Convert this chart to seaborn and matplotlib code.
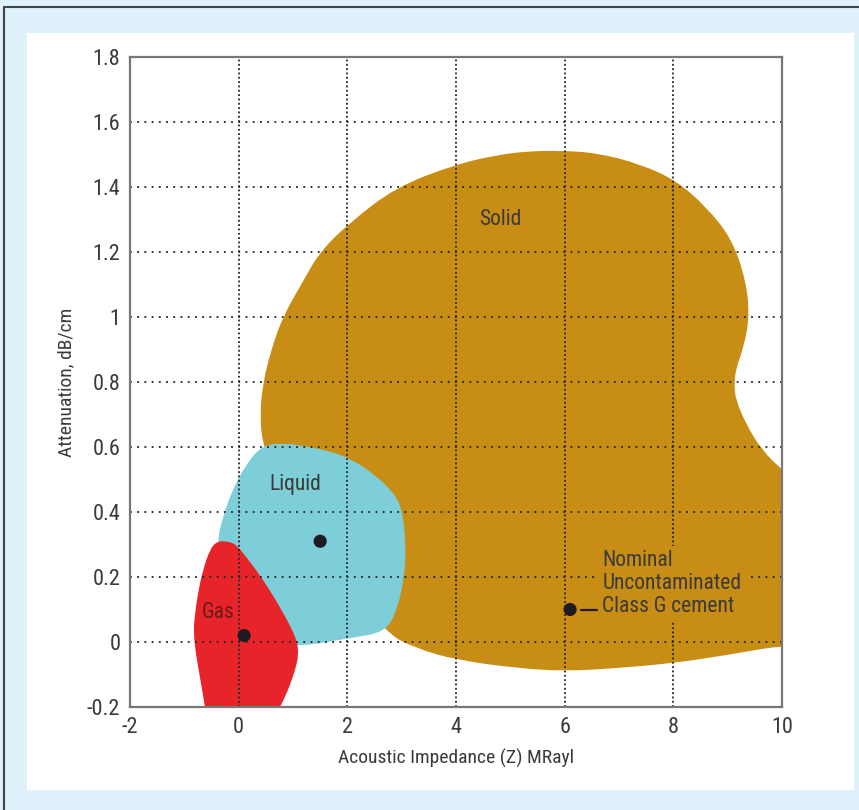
import numpy as np
import pandas as pd
import matplotlib
matplotlib.use("Agg")
import matplotlib.pyplot as plt
from matplotlib.patches import Rectangle, PathPatch
from matplotlib.path import Path
from matplotlib.lines import Line2D
from matplotlib import font_manager
import seaborn as sns

# ---------------- data ----------------
solid_x = [0.44, 0.39, 0.45, 0.60, 0.81, 1.15, 1.49, 2.04, 2.9, 4.0, 4.8, 5.35, 5.9, 6.6, 7.4,
           8.05, 8.6, 9.08, 9.34, 9.40, 9.3, 9.15, 9.12, 9.15, 9.34, 9.63, 10.0, 10.5,
           10.5, 10.0, 9.0, 8.0, 7.0, 6.0, 5.1, 4.0, 3.27, 2.68, 1.5, 0.6]
solid_y = [0.61, 0.70, 0.80, 0.90, 1.0, 1.1, 1.2, 1.29, 1.40, 1.47, 1.50, 1.51, 1.512, 1.505, 1.47,
           1.42, 1.34, 1.24, 1.11, 1.0, 0.91, 0.84, 0.79, 0.745, 0.67, 0.59, 0.53, 0.46,
           -0.02, -0.01, -0.04, -0.065, -0.08, -0.09, -0.08, -0.055, -0.02, 0.03, 0.3, 0.55]

liquid_x = [-0.40, -0.29, -0.11, 0.15, 0.44, 0.88, 1.30, 1.73, 2.10, 2.46, 2.80, 3.01, 3.08,
            3.05, 2.92, 2.70, 2.04, 1.12, 0.5, -0.3]
liquid_y = [0.31, 0.385, 0.47, 0.55, 0.606, 0.612, 0.60, 0.585, 0.56, 0.52, 0.47, 0.415, 0.29,
            0.20, 0.10, 0.03, 0.012, -0.015, 0.0, 0.2]

gas_x = [-0.40, -0.20, -0.05, 0.10, 0.33, 0.55, 0.75, 0.95, 1.08, 1.10, 1.05, 0.95, 0.85, 0.70,
         0.55, -0.55, -0.62, -0.70, -0.79, -0.83, -0.81, -0.75, -0.66, -0.53]
gas_y = [0.31, 0.31, 0.30, 0.27, 0.22, 0.165, 0.11, 0.05, 0.0, -0.04, -0.08, -0.13, -0.17, -0.22,
         -0.27, -0.27, -0.2, -0.12, -0.035, 0.03, 0.08, 0.15, 0.22, 0.285]

points = pd.DataFrame({
    "impedance": [0.1, 1.5, 6.1],
    "attenuation": [0.02, 0.31, 0.10],
    "phase": ["Gas", "Liquid", "Cement"],
})

region_labels = ["Solid", "Liquid", "Gas"]
region_label_x = [4.82, 1.05, -0.38]
region_label_y = [1.30, 0.486, 0.09]

x_ticks = [-2, 0, 2, 4, 6, 8, 10]
y_ticks = [-0.2, 0, 0.2, 0.4, 0.6, 0.8, 1, 1.2, 1.4, 1.6, 1.8]
y_tick_labels = ["-0.2", "0", "0.2", "0.4", "0.6", "0.8", "1", "1.2", "1.4", "1.6", "1.8"]
x_grid = [0, 2, 4, 6, 8]
y_grid = [0, 0.2, 0.4, 0.6, 0.8, 1.0, 1.2, 1.4, 1.6]

cement_text = "Nominal\nUncontaminated\nClass G cement"

# ---------------- style ----------------
sns.set_theme(style="white")

names = sorted({f.name for f in font_manager.fontManager.ttflist})
narrow = [n for n in names if ("Narrow" in n or "Condensed" in n)]
pref = [n for n in ["Liberation Sans Narrow", "DejaVu Sans Condensed", "Roboto Condensed",
                    "Open Sans Condensed", "Noto Sans Condensed"] if n in names]
chosen = (pref + narrow + ["Roboto"])[0]
plt.rcParams["font.family"] = [chosen, "DejaVu Sans"]

SOLID = "#C78D15"
LIQUID = "#7DCED8"
GAS = "#E8242B"
DOT = "#1E1C22"
TXT = "#3a3a3a"
BG = "#DFF1FB"


def smooth_patch(xs, ys, color, z):
    """Closed quadratic B-spline outline through the read-off control points."""
    pts = np.column_stack([xs, ys])
    n = len(pts)
    mids = (pts + np.roll(pts, -1, axis=0)) / 2
    verts = [mids[-1]]
    codes = [Path.MOVETO]
    for i in range(n):
        verts += [pts[i], mids[i]]
        codes += [Path.CURVE3, Path.CURVE3]
    verts.append(mids[-1])
    codes.append(Path.CLOSEPOLY)
    return PathPatch(Path(verts, codes), facecolor=color, edgecolor="none", lw=0, zorder=z)


W, H = 859, 810
fig = plt.figure(figsize=(W / 100, H / 100), dpi=100, facecolor=BG)

fig.add_artist(Rectangle((27 / W, 1 - 790 / H), (854 - 27) / W, (790 - 33) / H,
                         transform=fig.transFigure, facecolor="white", edgecolor="none", zorder=0))
fig.add_artist(Line2D([4 / W, 1], [1 - 7 / H, 1 - 7 / H], transform=fig.transFigure,
                      color="#444444", lw=1.5))
fig.add_artist(Line2D([4 / W, 4 / W], [0, 1 - 7 / H], transform=fig.transFigure,
                      color="#444444", lw=1.5))

ax = fig.add_axes([130 / W, 1 - 707 / H, (782 - 130) / W, (707 - 57) / H])
ax.set_facecolor("white")

ax.add_patch(smooth_patch(solid_x, solid_y, SOLID, 1))
ax.add_patch(smooth_patch(liquid_x, liquid_y, LIQUID, 2))
ax.add_patch(smooth_patch(gas_x, gas_y, GAS, 2.5))

for gx in x_grid:
    ax.axvline(gx, color="#222222", lw=1.3, ls=(0, (1, 1.4)), zorder=3)
for gy in y_grid:
    ax.axhline(gy, color="#222222", lw=1.3, ls=(0, (1, 3.0)), zorder=3)

sns.scatterplot(data=points, x="impedance", y="attenuation", color=DOT, s=90,
                edgecolor="none", legend=False, ax=ax, zorder=5)

for lab, lx, ly in zip(region_labels, region_label_x, region_label_y):
    c = "#6b1a1a" if lab == "Gas" else TXT
    ax.text(lx, ly, lab, fontsize=15.5, color=c, ha="center", va="center", zorder=6)

ax.plot([6.3, 6.6], [0.10, 0.10], color=DOT, lw=1.6, zorder=6)
ax.text(6.69, 0.18, cement_text, fontsize=15.5, color=TXT, ha="left", va="center",
        linespacing=1.12, zorder=6,
        bbox=dict(boxstyle="square,pad=0.2", facecolor=SOLID, edgecolor="none"))

ax.set_xlim(-2, 10)
ax.set_ylim(-0.2, 1.8)
ax.set_xticks(x_ticks)
ax.set_xticklabels([str(t) for t in x_ticks])
ax.set_yticks(y_ticks)
ax.set_yticklabels(y_tick_labels)
ax.tick_params(length=0, labelsize=16, labelcolor=TXT, pad=7)
ax.set_xlabel("Acoustic Impedance (Z) MRayl", fontsize=14, color=TXT, labelpad=8)
ax.set_ylabel("Attenuation, dB/cm", fontsize=14, color=TXT, labelpad=8)
for sp in ax.spines.values():
    sp.set_color("#777777")
    sp.set_linewidth(1.6)
    sp.set_zorder(7)

fig.savefig("out.png", dpi=100, facecolor=BG)
